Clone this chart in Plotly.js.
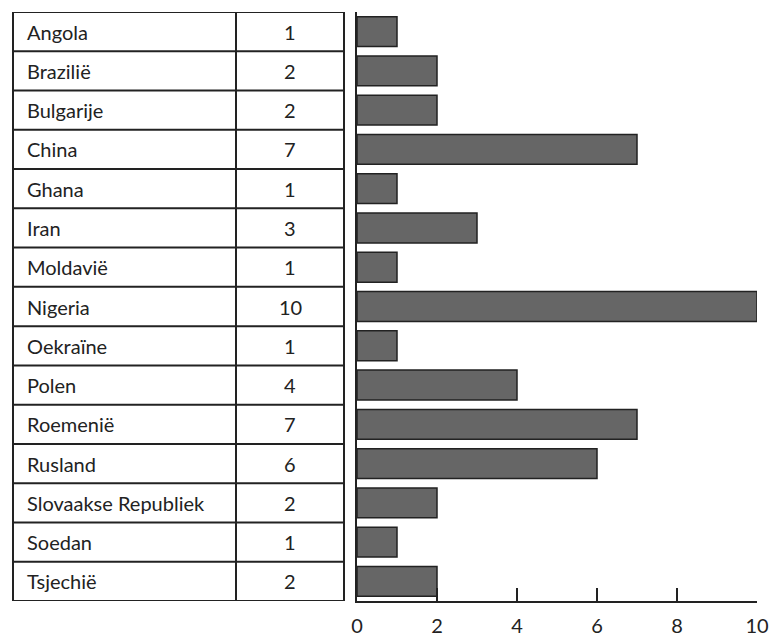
<!DOCTYPE html>
<html><head><meta charset="utf-8">
<script src="https://cdn.plot.ly/plotly-3.0.1.min.js"></script>
<style>html,body{margin:0;padding:0;background:#fff;}#chart{width:772px;height:637px;}</style>
</head><body><div id="chart"></div>
<script>
const countries = ["Angola","Brazilië","Bulgarije","China","Ghana","Iran","Moldavië","Nigeria","Oekraïne","Polen","Roemenië","Rusland","Slovaakse Republiek","Soedan","Tsjechië"];
const counts = [1,2,2,7,1,3,1,10,1,4,7,6,2,1,2];
const xTicks = [0,2,4,6,8,10];

const FONT = "Lato, 'Open Sans', sans-serif";
const INK = "#222";
const tableLeft = -0.86, tableMid = -0.3025, tableRight = -0.0325;

const shapes = [];
const lw = 2;
shapes.push({type:"rect", xref:"paper", yref:"y", x0:tableLeft, x1:tableRight, y0:-0.5, y1:countries.length-0.5, line:{color:INK,width:lw}});
shapes.push({type:"line", xref:"paper", yref:"y", x0:tableMid, x1:tableMid, y0:-0.5, y1:countries.length-0.5, line:{color:INK,width:lw}});
for (let i=1;i<countries.length;i++){
  shapes.push({type:"line", xref:"paper", yref:"y", x0:tableLeft, x1:tableRight, y0:i-0.5, y1:i-0.5, line:{color:INK,width:lw}});
}
const annotations = [];
countries.forEach((c,i)=>{
  annotations.push({xref:"paper", yref:"y", x:-0.83, y:i, text:c, showarrow:false, xanchor:"left", yanchor:"middle", font:{family:FONT,size:20,color:INK}});
  annotations.push({xref:"paper", yref:"y", x:-0.1675, y:i, text:String(counts[i]), showarrow:false, xanchor:"center", yanchor:"middle", font:{family:FONT,size:20,color:INK}});
});

const data = [{
  type:"bar", orientation:"h", x:counts, y:countries,
  marker:{color:"#666666", line:{color:INK,width:1.5}},
  width:0.76, hoverinfo:"none"
}];
const layout = {
  width:772, height:637,
  margin:{l:357, r:15, t:12, b:36, pad:0},
  paper_bgcolor:"#fff", plot_bgcolor:"#fff",
  showlegend:false,
  font:{family:FONT, color:INK},
  xaxis:{range:[0,10], tickvals:xTicks, ticktext:xTicks.map(String), ticks:"inside", ticklen:13, tickwidth:2, tickcolor:INK,
         showline:true, linewidth:2, linecolor:INK, showgrid:false, zeroline:false, tickfont:{family:FONT,size:20,color:INK}, ticklabelstandoff:6},
  yaxis:{type:"category", autorange:false, range:[countries.length-0.5,-0.5], showticklabels:false, ticks:"", showline:true, linewidth:2, linecolor:INK, showgrid:false, zeroline:false},
  shapes:shapes, annotations:annotations
};
Plotly.newPlot("chart", data, layout, {staticPlot:true});
</script></body></html>
